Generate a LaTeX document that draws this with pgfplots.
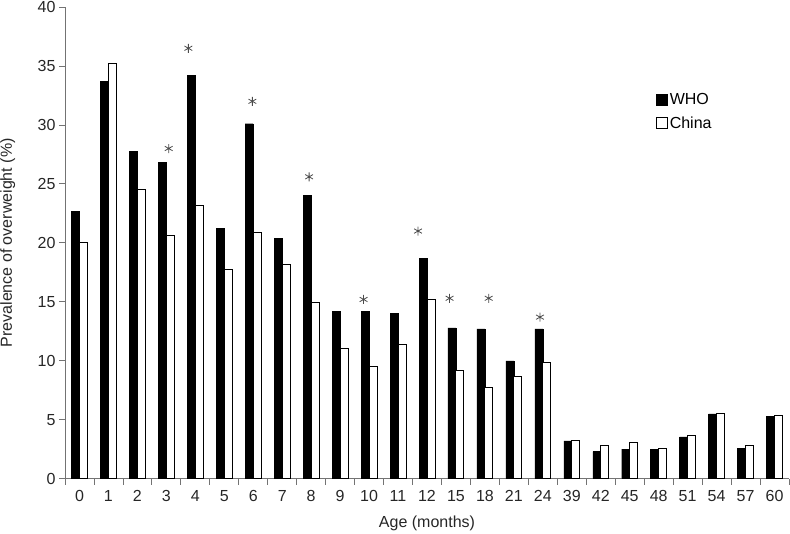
\documentclass[border=0pt]{standalone}
\usepackage{pgfplots}
\pgfplotsset{compat=1.18}
\usepackage{fontspec}
\setmainfont{Liberation Sans}

% WHO and China prevalence of overweight by age category (0..24)
\pgfplotstableread{
x who china
0 22.7 20.0
1 33.7 35.2
2 27.75 24.5
3 26.8 20.6
4 34.2 23.2
5 21.2 17.7
6 30.1 20.9
7 20.4 18.15
8 24.0 14.9
9 14.2 11.0
10 14.2 9.5
11 14.0 11.4
12 18.7 15.2
13 12.8 9.2
14 12.7 7.75
15 10.0 8.7
16 12.7 9.85
17 3.2 3.2
18 2.3 2.85
19 2.5 3.05
20 2.5 2.6
21 3.55 3.7
22 5.5 5.5
23 2.6 2.85
24 5.3 5.4
}\prevtable

\begin{document}
\begin{tikzpicture}
\begin{axis}[
    at={(0,0)}, anchor=south west,
    scale only axis, width=724pt, height=471.7pt,
    xmin=-0.5, xmax=24.5, ymin=0, ymax=40,
    axis lines*=left,
    axis line style={black!55, line width=0.8pt},
    font=\fontsize{16}{19}\selectfont,
    /pgf/number format/assume math mode=true,
    tick label style={text=black!85},
    xtick={0,...,24},
    xticklabels={0,1,2,3,4,5,6,7,8,9,10,11,12,15,18,21,24,39,42,45,48,51,54,57,60},
    minor xtick={-0.5,0.5,...,24.5},
    major x tick style={draw=none},
    minor x tick style={black!55, line width=0.8pt},
    ytick={0,5,...,40},
    major y tick style={black!55, line width=0.8pt},
    tick align=outside,
    major tick length=6pt, minor tick length=6pt,
    xticklabel style={yshift=-2pt},
    xlabel={Age (months)},
    ylabel={Prevalence of overweight (\%)},
    xlabel style={at={(axis description cs:0.5,-0.0939)}, anchor=center, text=black!85},
    ylabel style={at={(axis description cs:-0.0791,0.5)}, anchor=center, text=black!85},
    legend style={draw=none, fill=none, at={(axis description cs:0.816,0.822)},
        anchor=north west, inner sep=0pt, row sep=7pt,
        /tikz/every even column/.style={column sep=0pt}},
    legend cell align=left,
]
\addplot[ybar, bar width=8pt, bar shift=-4pt, draw=black, fill=black,
    legend image code/.code={\draw[black,fill=black] (0pt,-5.5pt) rectangle (11pt,5.5pt);}]
    table[x=x, y=who] {\prevtable};
\addlegendentry{WHO}
\addplot[ybar, bar width=8pt, bar shift=4pt, draw=black, fill=white, line width=1pt,
    legend image code/.code={\draw[black,fill=white,line width=0.8pt] (0pt,-5.5pt) rectangle (11pt,5.5pt);}]
    table[x=x, y=china] {\prevtable};
\addlegendentry{China}
% significance asterisks
\addplot[only marks, mark=asterisk, mark size=4.5pt, black!70, line width=0.8pt, forget plot]
    coordinates {
        (3.08,28.0) (3.76,36.5) (5.97,32.0) (7.93,25.6) (9.81,15.2)
        (11.69,21.0) (12.78,15.3) (14.13,15.3) (15.90,13.7)
    };
\end{axis}
\pgfresetboundingbox
\path[use as bounding box] (-65pt,-55.3pt) rectangle (725pt,478.7pt);
\end{tikzpicture}
\end{document}
